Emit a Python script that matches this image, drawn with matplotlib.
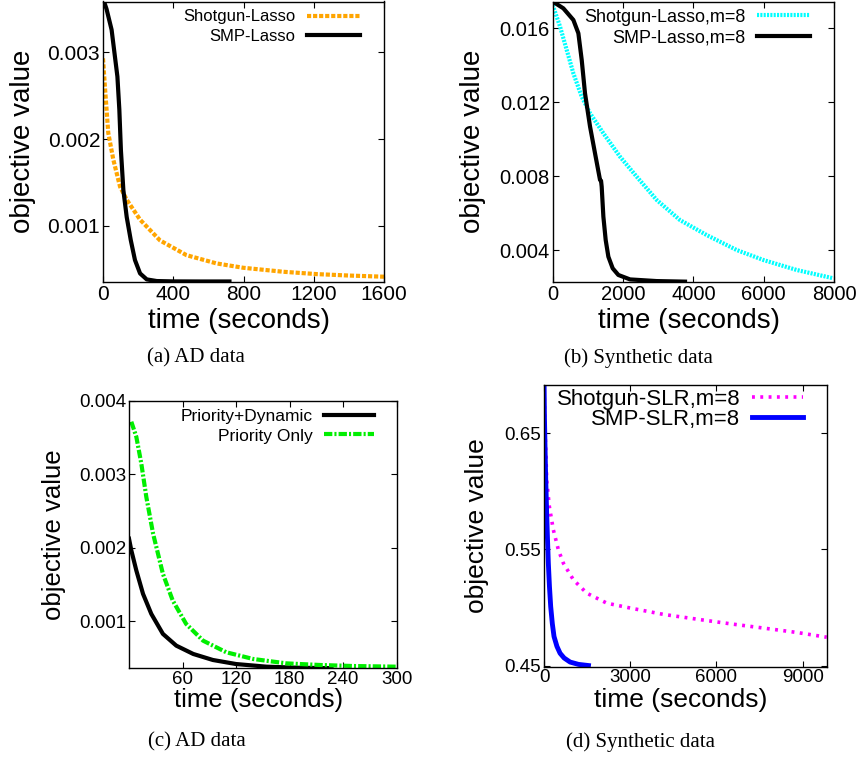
import matplotlib
matplotlib.use('Agg')
import matplotlib.pyplot as plt

plt.rcParams['font.family'] = ['Liberation Sans', 'DejaVu Sans']

# (a) AD data
smp_a_t = [0, 20, 49, 82, 93, 102, 116, 135, 158, 182, 211, 249, 306, 400, 550, 720]
smp_a_y = [0.00362, 0.00350, 0.00326, 0.00272, 0.00234, 0.00187, 0.00141, 0.00110,
           0.000835, 0.000604, 0.00045, 0.000381, 0.000362, 0.000358, 0.000357, 0.000357]
shot_a_t = [0, 11, 30, 59, 97, 135, 211, 325, 476, 647, 799, 1027, 1217, 1406, 1600]
shot_a_y = [0.00293, 0.00260, 0.00207, 0.00176, 0.00145, 0.00130, 0.00107, 0.00083,
            0.00066, 0.000565, 0.000515, 0.000469, 0.000442, 0.000425, 0.000412]

# (b) Synthetic data
smp_b_t = [0, 303, 588, 730, 825, 919, 1062, 1204, 1346, 1375, 1393, 1441, 1507, 1583,
           1706, 1867, 2199, 2957, 3763]
smp_b_y = [0.01745, 0.01708, 0.01645, 0.01573, 0.01429, 0.01248, 0.01068, 0.00923, 0.00779,
           0.00775, 0.00743, 0.00581, 0.00454, 0.00364, 0.00301, 0.00265, 0.00241, 0.00232, 0.00229]
shot_b_t = [0, 209, 398, 588, 825, 1062, 1441, 1915, 2389, 2957, 3621, 4379, 5232, 5991,
            6939, 7981]
shot_b_y = [0.01726, 0.01609, 0.01483, 0.01356, 0.0123, 0.0114, 0.01032, 0.00905, 0.00797,
            0.00671, 0.00562, 0.00481, 0.0040, 0.00346, 0.00292, 0.00247]

# (c) AD data
dyn_c_t = [0, 2.6, 8.2, 15.7, 25, 38, 53, 72, 94, 120, 154, 191.5, 227]
dyn_c_y = [0.002123, 0.001964, 0.001691, 0.001373, 0.0011, 0.000828, 0.000668, 0.000555,
           0.000473, 0.000418, 0.000382, 0.000367, 0.000362]
pri_c_t = [2.6, 8.2, 13.8, 19.4, 27, 38, 49, 64, 83, 109, 139, 176.5, 214, 251, 300]
pri_c_y = [0.003714, 0.003509, 0.003145, 0.002691, 0.002191, 0.001645, 0.001282, 0.000964,
           0.000736, 0.000578, 0.000487, 0.000427, 0.000405, 0.000391, 0.000382]

# (d) Synthetic data
smp_d_t = [0, 15, 35, 60, 93, 120, 151, 190, 233, 290, 349, 450, 559, 700, 908, 1200, 1548]
smp_d_y = [0.70, 0.665, 0.6385, 0.610, 0.5811, 0.560, 0.5381, 0.518, 0.5008, 0.486, 0.475,
           0.4665, 0.4606, 0.4565, 0.4530, 0.4510, 0.4500]
shot_d_t = [0, 30, 70, 93, 186, 326, 501, 675, 1024, 1490, 2189, 3004, 4168, 5332, 6497,
            7661, 8825, 9840]
shot_d_y = [0.695, 0.655, 0.630, 0.6098, 0.5869, 0.5668, 0.5496, 0.5381, 0.5238, 0.5123,
            0.5037, 0.4995, 0.4940, 0.4899, 0.4859, 0.4822, 0.4784, 0.4744]

W, H = 860, 765


def make_axes(fig, left, top, right, bottom):
    return fig.add_axes([left / W, 1 - bottom / H, (right - left) / W, (bottom - top) / H])


def style_axes(ax, tick_fs, label_fs, ylab_x, xlab_y):
    ax.tick_params(direction='in', length=4, width=0.8, top=True, right=True,
                   labelsize=tick_fs, pad=2)
    for s in ax.spines.values():
        s.set_linewidth(1.0)
    ax.set_xlabel('time (seconds)', fontsize=label_fs)
    ax.set_ylabel('objective value', fontsize=label_fs)
    ax.yaxis.set_label_coords(ylab_x, 0.5)
    ax.xaxis.set_label_coords(0.485, xlab_y)


def add_legend(ax, y, fs, hl, htp, ls, x=0.915):
    ax.legend(loc='upper right', bbox_to_anchor=(x, y), frameon=False, fontsize=fs,
              markerfirst=False, handlelength=hl, handletextpad=htp, labelspacing=ls,
              borderpad=0, borderaxespad=0)


fig = plt.figure(figsize=(W / 100, H / 100), dpi=100)

# ---- (a)
ax = make_axes(fig, 103, 1.5, 384, 282)
ax.plot(shot_a_t, shot_a_y, color='#FFA500', lw=3, dashes=(1.0, 0.45), label='Shotgun-Lasso')
ax.plot(smp_a_t, smp_a_y, color='black', lw=3, label='SMP-Lasso')
ax.set_xlim(0, 1600)
ax.set_ylim(0.000351, 0.003586)
ax.set_xticks([0, 400, 800, 1200, 1600])
ax.set_yticks([0.001, 0.002, 0.003])
ax.set_yticklabels(['0.001', '0.002', '0.003'])
style_axes(ax, 15, 20, -0.2385, -0.0925)
add_legend(ax, 0.972, 12, 3.2, 0.7, 0.25)

# ---- (b)
ax = make_axes(fig, 552.7, 1.5, 834, 282)
ax.plot(shot_b_t, shot_b_y, color='#00FFFF', lw=3, dashes=(0.5, 0.3), label='Shotgun-Lasso,m=8')
ax.plot(smp_b_t, smp_b_y, color='black', lw=3, label='SMP-Lasso,m=8')
ax.set_xlim(0, 8000)
ax.set_ylim(0.00227, 0.01745)
ax.set_xticks([0, 2000, 4000, 6000, 8000])
ax.set_yticks([0.004, 0.008, 0.012, 0.016])
ax.set_yticklabels(['0.004', '0.008', '0.012', '0.016'])
style_axes(ax, 14.5, 20, -0.238, -0.0925)
add_legend(ax, 0.974, 13, 2.95, 0.65, 0.22)

# ---- (c)
ax = make_axes(fig, 129, 400.7, 396.7, 668.3)
ax.plot(dyn_c_t, dyn_c_y, color='black', lw=3, label='Priority+Dynamic')
ax.plot(pri_c_t, pri_c_y, color='#00EE00', lw=3, dashes=(2.0, 0.5, 0.5, 0.5), label='Priority Only')
ax.set_xlim(0, 300)
ax.set_ylim(0.00036, 0.004)
ax.set_xticks([60, 120, 180, 240, 300])
ax.set_yticks([0.001, 0.002, 0.003, 0.004])
ax.set_yticklabels(['0.001', '0.002', '0.003', '0.004'])
style_axes(ax, 13.5, 18.5, -0.236, -0.0747)
add_legend(ax, 0.97, 12.5, 2.9, 0.6, 0.26)

# ---- (d)
ax = make_axes(fig, 544, 385, 826.7, 666.7)
ax.plot(shot_d_t, shot_d_y, color='#FF00FF', lw=2.6, dashes=(0.8, 1.5), label='Shotgun-SLR,m=8')
ax.plot(smp_d_t, smp_d_y, color='#0000FF', lw=3.5, label='SMP-SLR,m=8')
ax.set_xlim(0, 9840)
ax.set_ylim(0.449, 0.6916)
ax.set_xticks([0, 3000, 6000, 9000])
ax.set_yticks([0.45, 0.55, 0.65])
ax.set_yticklabels(['0.45', '0.55', '0.65'])
style_axes(ax, 13.5, 19, -0.193, -0.0767)
add_legend(ax, 0.985, 16, 2.3, 0.53, -0.06, x=0.917)

# captions
cap = dict(fontsize=15, family=['Liberation Serif', 'DejaVu Serif'], ha='center', va='center')
fig.text(196 / W, 1 - 358 / H, '(a) AD data', **cap)
fig.text(638 / W, 1 - 358 / H, '(b) Synthetic data', **cap)
fig.text(197 / W, 1 - 742 / H, '(c) AD data', **cap)
fig.text(640 / W, 1 - 742 / H, '(d) Synthetic data', **cap)

fig.savefig('out.png', dpi=100)
